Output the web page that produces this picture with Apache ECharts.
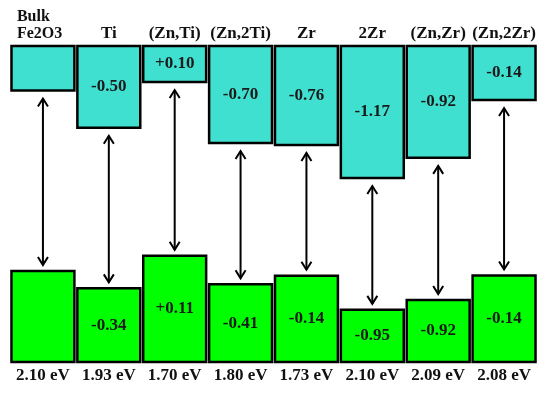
<!DOCTYPE html>
<html>
<head>
<meta charset="utf-8">
<script src="https://cdn.jsdelivr.net/npm/echarts@6/dist/echarts.min.js"></script>
<style>html,body{margin:0;padding:0;background:#fff;}#c{width:550px;height:396px;}</style>
</head>
<body>
<div id="c"></div>
<script>
// categories (top labels) and band gaps (bottom labels)
var categories = ['Bulk\nFe2O3', 'Ti', '(Zn,Ti)', '(Zn,2Ti)', 'Zr', '2Zr', '(Zn,Zr)', '(Zn,2Zr)'];
var gapLabels = ['2.10 eV', '1.93 eV', '1.70 eV', '1.80 eV', '1.73 eV', '2.10 eV', '2.09 eV', '2.08 eV'];
// schematic energy levels (0 = bottom of valence blocks, 100 = top of conduction blocks)
var cbBottom = [85.9, 74.1, 88.6, 69.3, 68.7, 58.2, 64.6, 82.9];
var vbTop = [28.8, 23.3, 33.6, 24.6, 27.3, 16.5, 19.6, 27.4];
// offset labels
var cbLabels = ['', '-0.50', '+0.10', '-0.70', '-0.76', '-1.17', '-0.92', '-0.14'];
var vbLabels = ['', '-0.34', '+0.11', '-0.41', '-0.14', '-0.95', '-0.92', '-0.14'];
var levelTop = 100, levelBottom = 0;

var FONT = "'Liberation Serif', 'Times New Roman', Times, serif";
var chart = echarts.init(document.getElementById('c'), null, {renderer: 'canvas'});

function blockItem(color, getTop, getBottom, labels) {
  return function (params, api) {
    var i = api.value(0);
    var p1 = api.coord([i, getTop(api)]);
    var p2 = api.coord([i, getBottom(api)]);
    var w = api.size([1, 0])[0] * 0.955;
    var x = p1[0] - w / 2;
    var children = [{
      type: 'rect',
      shape: {x: x, y: p1[1], width: w, height: p2[1] - p1[1]},
      style: {fill: color, stroke: '#000', lineWidth: 2.5}
    }];
    if (labels[i]) {
      children.push({
        type: 'text',
        style: {
          text: labels[i], x: p1[0], y: (p1[1] + p2[1]) / 2,
          align: 'center', verticalAlign: 'middle',
          fontFamily: FONT, fontWeight: 'bold', fontSize: 17, fill: '#1a1a1a'
        }
      });
    }
    return {type: 'group', children: children};
  };
}

var cbData = cbBottom.map(function (v, i) { return [i, v]; });
var vbData = vbTop.map(function (v, i) { return [i, v]; });
var arrowData = cbBottom.map(function (v, i) { return [i, v, vbTop[i]]; });

chart.setOption({
  animation: false,
  textStyle: {fontFamily: FONT},
  grid: {left: 10, right: 13, top: 46, bottom: 34},
  xAxis: [{
    type: 'category', data: categories, position: 'top',
    axisLine: {show: false}, axisTick: {show: false},
    axisLabel: {
      interval: 0, margin: 4, color: '#111', fontWeight: 'bold', fontSize: 17, fontFamily: FONT,
      formatter: function (v, idx) {
        if (idx === 0) return '{a|Bulk}\n{a|Fe2O3}';
        return v;
      },
      rich: {a: {width: 52, align: 'left', fontWeight: 'bold', fontSize: 16, fontFamily: FONT, color: '#111', lineHeight: 17}}
    }
  }, {
    type: 'category', data: gapLabels, position: 'bottom',
    axisLine: {show: false}, axisTick: {show: false},
    axisLabel: {interval: 0, margin: 5, color: '#111', fontWeight: 'bold', fontSize: 17, fontFamily: FONT}
  }],
  yAxis: {
    type: 'value', min: levelBottom, max: levelTop,
    show: false, splitLine: {show: false}
  },
  series: [{
    type: 'custom', xAxisIndex: 0, data: cbData,
    renderItem: blockItem('#40E0D0', function () { return levelTop; }, function (api) { return api.value(1); }, cbLabels)
  }, {
    type: 'custom', xAxisIndex: 0, data: vbData,
    renderItem: blockItem('#00FF00', function (api) { return api.value(1); }, function () { return levelBottom; }, vbLabels)
  }, {
    type: 'custom', xAxisIndex: 0, data: arrowData,
    renderItem: function (params, api) {
      var i = api.value(0);
      var a = api.coord([i, api.value(1)]);
      var b = api.coord([i, api.value(2)]);
      var x = a[0];
      var y1 = a[1] + 8, y2 = b[1] - 6;
      var hw = 5, hl = 8;
      var st = {stroke: '#000', lineWidth: 2, fill: null};
      return {type: 'group', children: [
        {type: 'line', shape: {x1: x, y1: y1, x2: x, y2: y2}, style: st},
        {type: 'polyline', shape: {points: [[x - hw, y1 + hl], [x, y1], [x + hw, y1 + hl]]}, style: st},
        {type: 'polyline', shape: {points: [[x - hw, y2 - hl], [x, y2], [x + hw, y2 - hl]]}, style: st}
      ]};
    }
  }]
});
</script>
</body>
</html>
